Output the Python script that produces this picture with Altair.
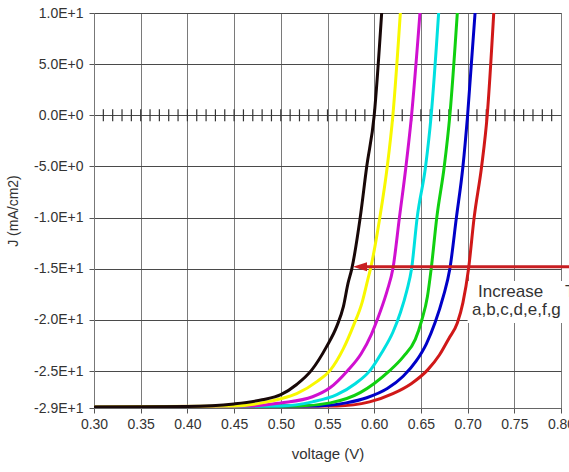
import altair as alt
import pandas as pd

# ---------------- data ----------------
series_names = ["a", "b", "c", "d", "e", "f", "g"]
series_colors = ["#d01818", "#0000c8", "#10d010", "#00e0e0", "#d010d0", "#f8f800", "#180808"]

# a (red, lowest T) ... g (black, highest T)
V_a = [0.30, 0.56, 0.595, 0.620, 0.640, 0.657, 0.670, 0.680, 0.689, 0.695, 0.701, 0.707, 0.715, 0.721, 0.728]
J_a = [-28.5, -28.4, -28.0, -27.2, -26.2, -24.9, -23.4, -21.8, -20.3, -18.3, -15.0, -10.0, -5.0, 0.0, 10.0]

V_b = [0.30, 0.54, 0.570, 0.592, 0.614, 0.631, 0.645, 0.656, 0.665, 0.674, 0.681, 0.688, 0.695, 0.700, 0.708]
J_b = [-28.5, -28.4, -28.1, -27.6, -26.7, -25.5, -24.0, -22.3, -20.3, -17.7, -15.0, -10.0, -5.0, 0.0, 10.0]

V_c = [0.30, 0.52, 0.553, 0.585, 0.600, 0.616, 0.631, 0.644, 0.651, 0.657, 0.661, 0.667, 0.675, 0.681, 0.689]
J_c = [-28.5, -28.4, -28.1, -27.1, -26.2, -25.0, -23.6, -21.9, -20.0, -17.7, -15.0, -10.0, -5.0, 0.0, 10.0]

V_d = [0.30, 0.50, 0.534, 0.560, 0.580, 0.595, 0.608, 0.620, 0.628, 0.635, 0.640, 0.646, 0.655, 0.661, 0.669]
J_d = [-28.5, -28.4, -28.0, -27.3, -26.2, -25.0, -23.2, -21.2, -19.3, -17.1, -15.0, -10.0, -5.0, 0.0, 10.0]

V_e = [0.30, 0.47, 0.500, 0.534, 0.553, 0.571, 0.586, 0.597, 0.606, 0.614, 0.620, 0.627, 0.634, 0.640, 0.649]
J_e = [-28.5, -28.4, -28.1, -27.5, -26.6, -25.0, -23.3, -21.4, -19.3, -17.1, -15.0, -10.0, -5.0, 0.0, 10.0]

V_f = [0.30, 0.45, 0.480, 0.500, 0.517, 0.539, 0.553, 0.567, 0.578, 0.587, 0.593, 0.596, 0.606, 0.614, 0.620, 0.628]
J_f = [-28.5, -28.4, -28.1, -27.7, -27.2, -26.0, -24.9, -22.8, -20.5, -18.3, -16.1, -15.0, -10.0, -5.0, 0.0, 10.0]

V_g = [0.30, 0.40, 0.450, 0.480, 0.500, 0.517, 0.533, 0.549, 0.560, 0.567, 0.572, 0.576, 0.585, 0.592, 0.600, 0.608]
J_g = [-28.5, -28.45, -28.2, -27.8, -27.3, -26.3, -24.9, -22.6, -20.6, -18.7, -16.4, -15.0, -10.0, -5.0, 0.0, 10.0]

V_all = [V_a, V_b, V_c, V_d, V_e, V_f, V_g]
J_all = [J_a, J_b, J_c, J_d, J_e, J_f, J_g]

x_ticks = [0.30, 0.35, 0.40, 0.45, 0.50, 0.55, 0.60, 0.65, 0.70, 0.75, 0.80]
y_ticks = [10, 5, 0, -5, -10, -15, -20, -25, -28.6]
y_domain = [-28.6, 10]
x_domain = [0.30, 0.80]
minor_ticks = [round(0.30 + i * 0.01, 2) for i in range(1, 50)]

# annotation
arrow_V = [0.5848, 0.82]
arrow_J = -14.8
ann_text = ["Increase", "T", "a,b,c,d,e,f,g"]
ann_V = [0.7111, 0.8043, 0.7047]
ann_J = [-17.73, -17.73, -19.49]
box_V = [0.700, 0.83]
box_J = [-16.2, -20.3]

# ---------------- chart ----------------
FONT = "Liberation Sans"
xs = alt.Scale(domain=x_domain, nice=False, zero=False)
ys = alt.Scale(domain=y_domain, nice=False, zero=False)

x_axis = alt.Axis(values=x_ticks, format=".2f", grid=True, gridColor="#7a7a7a", gridWidth=1,
                  tickSize=5, tickColor="#555555", domainColor="#666666",
                  labelFont=FONT, labelFontSize=14, labelColor="#333333", labelPadding=4,
                  labelFlush=False, labelOverlap=False,
                  titleFont=FONT, titleFontSize=15, titleFontWeight="normal", titleColor="#333333",
                  titleY=45, titleBaseline="middle")
y_axis = alt.Axis(values=y_ticks,
                  labelExpr="replace(upper(format(datum.value, '.1e')), '\u2212', '-')",
                  grid=True, gridColor="#4a4a4a", gridWidth=1,
                  tickSize=5, tickColor="#555555", domainColor="#777777",
                  labelFont=FONT, labelFontSize=14, labelColor="#333333", labelPadding=6,
                  labelFlush=False, labelOverlap=False,
                  titleFont=FONT, titleFontSize=14, titleFontWeight="normal", titleColor="#333333",
                  titleX=-74, titleY=197.5, titleAngle=270, titleBaseline="bottom", titleAlign="center")

X = alt.X("V:Q", scale=xs, axis=x_axis, title="voltage (V)")
Y = alt.Y("J:Q", scale=ys, axis=y_axis, title="J (mA/cm2)")

rows = []
for name, vs, js in zip(series_names, V_all, J_all):
    for v, j in zip(vs, js):
        rows.append({"series": name, "V": v, "J": j})
curves = pd.DataFrame(rows)

box_df = pd.DataFrame({"V": [box_V[0]], "V2": [box_V[1]], "J": [box_J[0]], "J2": [box_J[1]]})
box = alt.Chart(box_df).mark_rect(color="white", opacity=1).encode(
    x=X, x2="V2:Q", y=Y, y2="J2:Q")

minor_df = pd.DataFrame({"V": minor_ticks, "J": [0] * len(minor_ticks)})
minor = alt.Chart(minor_df).mark_tick(orient="vertical", size=12, thickness=1.2,
                                      color="#333333", opacity=1).encode(x=X, y=Y)

layers = [box, minor]
for name, col in zip(series_names, series_colors):
    layers.append(
        alt.Chart(curves).transform_filter(alt.datum.series == name)
        .mark_line(color=col, strokeWidth=3, interpolate="monotone", clip=True)
        .encode(x=X, y=Y)
    )

arrow_df = pd.DataFrame({"V": [arrow_V[0]], "V2": [arrow_V[1]], "J": [arrow_J]})
arrow_line = alt.Chart(arrow_df).mark_rule(color="#c81e22", strokeWidth=3).encode(
    x=X, x2="V2:Q", y=Y)
head_df = pd.DataFrame({"V": [arrow_V[0]], "J": [arrow_J]})
arrow_head = alt.Chart(head_df).mark_point(shape="M-1,0L1,-0.65L1,0.65Z", filled=True,
                                           size=196, color="#c81e22", opacity=1).encode(x=X, y=Y)

ann_df = pd.DataFrame({"V": ann_V, "J": ann_J, "label": ann_text})
ann = alt.Chart(ann_df).mark_text(align="left", baseline="alphabetic", font=FONT,
                                  fontSize=17, color="#333333").encode(x=X, y=Y, text="label:N")

layers += [arrow_line, arrow_head, ann]

chart = alt.layer(*layers).properties(
    width=467, height=395,
    autosize=alt.AutoSizeParams(type="none"),
    padding={"left": 94, "top": 13, "right": 8, "bottom": 64},
    background="white",
).configure_view(stroke="#888888")

chart.save("out.html", embed_options={"renderer": "svg", "actions": False})
